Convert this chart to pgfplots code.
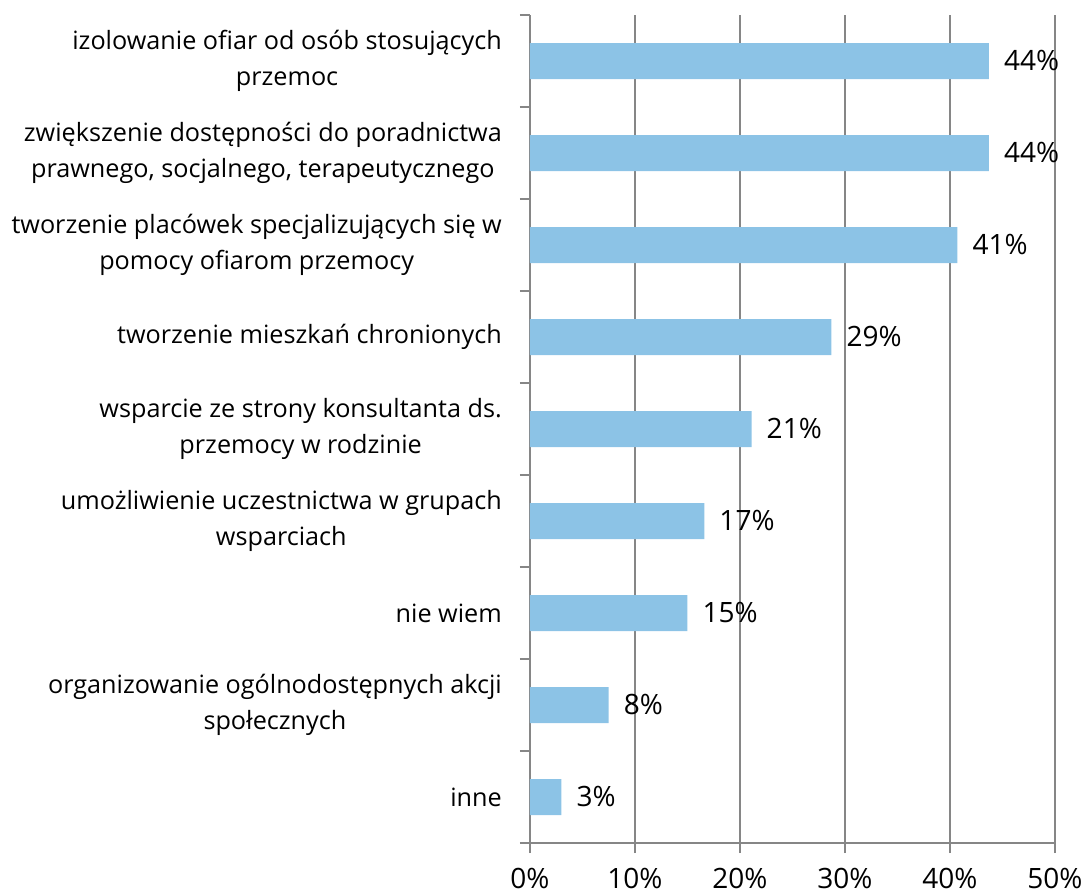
\documentclass[border=0pt]{standalone}
\usepackage{pgfplots}
\pgfplotsset{compat=1.18}
\usepackage{fontspec}
\setmainfont{Open Sans}
\definecolor{barblue}{RGB}{140,195,230}
\definecolor{axgray}{RGB}{134,134,134}

\begin{document}
\begin{tikzpicture}
\begin{axis}[
  scale only axis,
  width=525pt, height=828pt,
  xbar, bar width=36pt,
  xmin=0, xmax=50,
  ymin=0.5, ymax=9.5,
  y dir=reverse,
  axis x line*=bottom, axis y line*=left,
  axis line style={axgray, line width=1.5pt},
  xtick={0,10,...,50},
  xticklabels={0\%,10\%,20\%,30\%,40\%,50\%},
  xticklabel style={font=\fontsize{28}{32}\selectfont, inner sep=0pt, yshift=-15pt},
  xmajorgrids,
  major grid style={axgray, line width=1.5pt},
  tick align=outside,
  major tick length=10pt,
  tick style={axgray, line width=1.5pt},
  ytick={0.5,1.5,...,9.5},
  yticklabels={},
  extra y ticks={1,...,9},
  extra y tick labels={
    {izolowanie ofiar od osób stosujących\\przemoc},
    {zwiększenie dostępności do poradnictwa\\prawnego, socjalnego, terapeutycznego},
    {tworzenie placówek specjalizujących się w\\pomocy ofiarom przemocy},
    {tworzenie mieszkań chronionych},
    {wsparcie ze strony konsultanta ds.\\przemocy w rodzinie},
    {umożliwienie uczestnictwa w grupach\\wsparciach},
    {nie wiem},
    {organizowanie ogólnodostępnych akcji\\społecznych},
    {inne}
  },
  extra y tick style={
    tick style={draw=none},
    yticklabel style={align=center, inner sep=0pt, xshift=-18pt,
      font=\fontsize{25.2}{36}\selectfont}
  },
  point meta=explicit symbolic,
  nodes near coords,
  nodes near coords style={font=\fontsize{28}{32}\selectfont,
    anchor=west, inner sep=0pt, xshift=15pt, yshift=1pt, text=black},
]
\addplot[fill=barblue, draw=none] coordinates {
  (43.7,1) [44\%]
  (43.7,2) [44\%]
  (40.7,3) [41\%]
  (28.7,4) [29\%]
  (21.1,5) [21\%]
  (16.6,6) [17\%]
  (15.0,7) [15\%]
  (7.5,8) [8\%]
  (3.0,9) [3\%]
};
\end{axis}
\pgfresetboundingbox
\path ([shift={(-530pt,-52pt)}]current axis.south west) rectangle ++(1083pt,895pt);
\end{tikzpicture}
\end{document}
